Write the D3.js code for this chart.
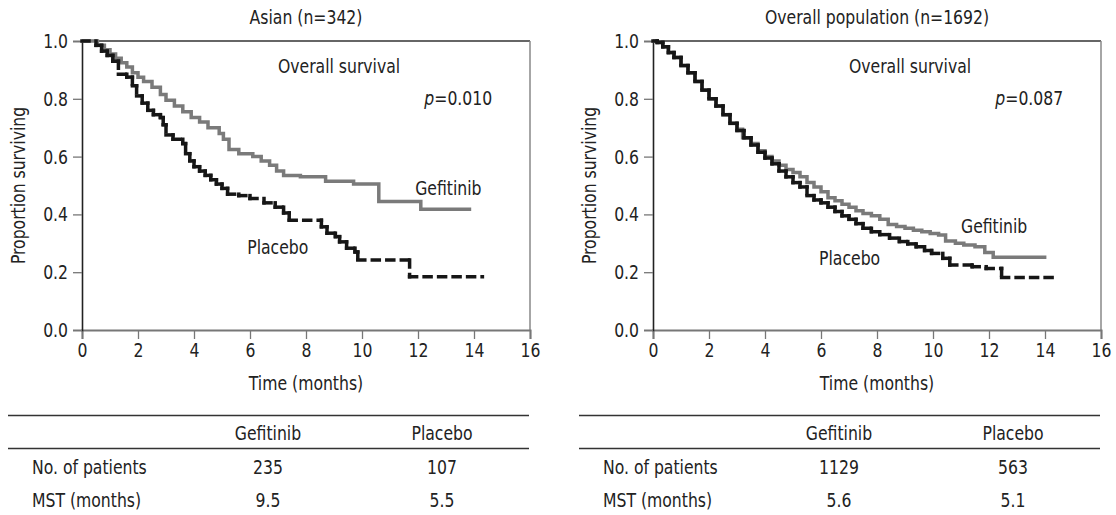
<!DOCTYPE html>
<html>
<head>
<meta charset="utf-8">
<script src="https://cdn.jsdelivr.net/npm/d3@7"></script>
<style>
  body { margin: 0; background: #fff; }
  text { font-family: 'DejaVu Sans Condensed', 'Liberation Sans Narrow', sans-serif; fill: #222; }
</style>
</head>
<body>
<svg id="chart" width="1116" height="515"></svg>
<script>
// tick values
var xTicks = [0, 2, 4, 6, 8, 10, 12, 14, 16];
var yTicks = [0, 0.2, 0.4, 0.6, 0.8, 1.0];

// Asian (n=342) - Kaplan-Meier steps
var asianGefTime = [0, 0.55, 0.8, 1.0, 1.2, 1.4, 1.6, 1.8, 2.0, 2.2, 2.5, 2.8, 3.0, 3.3, 3.6, 3.9, 4.2, 4.5, 4.9, 5.05, 5.25, 5.6, 6.1, 6.4, 6.7, 6.95, 7.2, 7.8, 8.7, 9.7, 10.6, 12.1, 13.9];
var asianGefSurv = [1.0, 0.985, 0.97, 0.955, 0.94, 0.925, 0.91, 0.89, 0.875, 0.86, 0.84, 0.815, 0.795, 0.775, 0.755, 0.735, 0.72, 0.70, 0.68, 0.66, 0.625, 0.61, 0.60, 0.585, 0.57, 0.55, 0.535, 0.53, 0.515, 0.505, 0.445, 0.418, 0.418];
var asianPlaTime = [0, 0.5, 0.7, 0.9, 1.1, 1.3, 1.6, 1.8, 1.95, 2.15, 2.35, 2.55, 2.8, 2.9, 3.0, 3.25, 3.6, 3.7, 3.85, 4.0, 4.2, 4.4, 4.6, 4.8, 5.0, 5.2, 5.6, 6.0, 6.5, 6.9, 7.2, 7.4, 8.55, 8.75, 9.05, 9.2, 9.45, 9.75, 9.85, 11.7, 14.3];
var asianPlaSurv = [1.0, 0.985, 0.965, 0.95, 0.93, 0.885, 0.875, 0.845, 0.81, 0.785, 0.76, 0.745, 0.735, 0.71, 0.675, 0.66, 0.645, 0.61, 0.585, 0.565, 0.55, 0.535, 0.52, 0.505, 0.49, 0.47, 0.465, 0.455, 0.44, 0.425, 0.405, 0.38, 0.357, 0.335, 0.323, 0.305, 0.283, 0.27, 0.242, 0.184, 0.184];

// Overall population (n=1692)
var allGefTime = [0, 0.15, 0.35, 0.55, 0.75, 1.0, 1.25, 1.5, 1.75, 2.0, 2.25, 2.5, 2.75, 3.0, 3.2, 3.5, 3.75, 4.0, 4.25, 4.5, 4.75, 5.0, 5.25, 5.5, 5.75, 6.0, 6.25, 6.5, 6.75, 7.0, 7.25, 7.5, 7.8, 8.1, 8.4, 8.7, 9.0, 9.3, 9.6, 9.9, 10.2, 10.45, 10.8, 11.1, 11.5, 11.85, 12.15, 14.05];
var allGefSurv = [1.0, 0.995, 0.98, 0.96, 0.943, 0.915, 0.89, 0.86, 0.83, 0.80, 0.775, 0.745, 0.715, 0.695, 0.665, 0.645, 0.62, 0.60, 0.585, 0.57, 0.555, 0.545, 0.53, 0.51, 0.495, 0.478, 0.458, 0.447, 0.435, 0.425, 0.413, 0.403, 0.395, 0.383, 0.365, 0.358, 0.352, 0.345, 0.34, 0.334, 0.329, 0.308, 0.30, 0.294, 0.288, 0.268, 0.252, 0.252];
var allPlaTime = [0, 0.15, 0.35, 0.55, 0.75, 1.0, 1.25, 1.5, 1.75, 2.0, 2.25, 2.5, 2.75, 3.0, 3.25, 3.5, 3.75, 4.0, 4.25, 4.5, 4.75, 5.0, 5.25, 5.5, 5.75, 6.0, 6.25, 6.5, 6.75, 7.0, 7.25, 7.5, 7.8, 8.1, 8.45, 8.8, 9.1, 9.4, 9.7, 9.95, 10.35, 10.6, 11.4, 11.9, 12.45, 14.35];
var allPlaSurv = [1.0, 0.995, 0.98, 0.96, 0.943, 0.915, 0.89, 0.86, 0.83, 0.80, 0.775, 0.745, 0.715, 0.69, 0.665, 0.64, 0.615, 0.595, 0.575, 0.55, 0.53, 0.51, 0.495, 0.465, 0.45, 0.44, 0.425, 0.41, 0.395, 0.383, 0.368, 0.352, 0.34, 0.33, 0.318, 0.306, 0.298, 0.288, 0.275, 0.265, 0.248, 0.225, 0.219, 0.213, 0.182, 0.182];

// table under each plot
var tableCols = ["Gefitinib", "Placebo"];
var tableRows = ["No. of patients", "MST (months)"];
var asianTable = [["235", "107"], ["9.5", "5.5"]];
var allTable = [["1129", "563"], ["5.6", "5.1"]];

var svg = d3.select("#chart");
var FS = 20;
var SX = 0.87; // squeeze text sideways, the original face is condensed

function zip(t, s) {
	return t.map(function (d, i) { return { t: d, s: s[i] }; });
}

// text helper: squeezed horizontally around its anchor point
function label(g, x, y, txt, anchor) {
	return g.append("text")
		.attr("transform", "translate(" + x + "," + y + ") scale(" + SX + ",1)")
		.attr("text-anchor", anchor || "start")
		.attr("dominant-baseline", "central")
		.attr("font-size", FS)
		.text(txt);
}

function drawPanel(opt) {
	var x = d3.scaleLinear().domain([0, 16]).range([opt.left, opt.left + 448]);
	var y = d3.scaleLinear().domain([0, 1]).range([330, 41]);
	var g = svg.append("g");

	// frame top / right
	g.append("line").attr("x1", x(0)).attr("x2", x(16)).attr("y1", y(1)).attr("y2", y(1))
		.attr("stroke", "#333").attr("stroke-width", 1.3);
	g.append("line").attr("x1", x(16)).attr("x2", x(16)).attr("y1", y(1)).attr("y2", y(0))
		.attr("stroke", "#888").attr("stroke-width", 1.5);

	var xAxis = g.append("g").attr("transform", "translate(0," + y(0) + ")")
		.call(d3.axisBottom(x).tickValues(xTicks).tickSize(9).tickPadding(4).tickFormat(d3.format("d")));
	var yAxis = g.append("g").attr("transform", "translate(" + x(0) + ",0)")
		.call(d3.axisLeft(y).tickValues(yTicks).tickSize(9).tickPadding(5).tickFormat(d3.format(".1f")));
	xAxis.select(".domain").attr("stroke", "#777").attr("stroke-width", 2);
	yAxis.select(".domain").attr("stroke", "#222").attr("stroke-width", 1.6);
	g.selectAll(".tick line").attr("stroke", "#777").attr("stroke-width", 1.3);
	g.selectAll(".tick text").attr("font-size", FS).attr("font-family", null).attr("fill", "#222");
	xAxis.selectAll(".tick text").attr("transform", "scale(" + SX + ",1)");
	yAxis.selectAll(".tick text").attr("transform", "scale(" + SX + ",1)").attr("x", -14 / SX);

	// gefitinib: solid grey step line
	var gef = zip(opt.gefT, opt.gefS);
	g.append("path").datum(gef)
		.attr("fill", "none").attr("stroke", "#7a7a7a").attr("stroke-width", 3.5)
		.attr("d", d3.line().curve(d3.curveStepAfter).x(function (d) { return x(d.t); }).y(function (d) { return y(d.s); }));

	// placebo: black, each step piece drawn on its own so short steps look solid
	var pla = zip(opt.plaT, opt.plaS);
	var segs = [];
	for (var i = 0; i < pla.length - 1; i++) {
		segs.push([pla[i].t, pla[i].s, pla[i + 1].t, pla[i].s]);
		if (pla[i + 1].s !== pla[i].s) segs.push([pla[i + 1].t, pla[i].s, pla[i + 1].t, pla[i + 1].s]);
	}
	g.selectAll(".pla").data(segs).enter().append("line")
		.attr("class", "pla")
		.attr("x1", function (d) { return x(d[0]); }).attr("y1", function (d) { return y(d[1]); })
		.attr("x2", function (d) { return x(d[2]); }).attr("y2", function (d) { return y(d[3]); })
		.attr("stroke", "#161616").attr("stroke-width", 3.5)
		.attr("stroke-linecap", "square").attr("stroke-dasharray", "7,7.5");

	// texts
	label(g, x(8), 17, opt.title, "middle");
	label(g, x(9.18), y(0.913), "Overall survival", "middle");
	var pt = label(g, x(14.65), y(0.803), "", "end");
	pt.append("tspan").attr("font-style", "italic").text("p");
	pt.append("tspan").text("=" + opt.p);
	label(g, x(opt.gefLab[0]), y(opt.gefLab[1]), "Gefitinib");
	label(g, x(opt.plaLab[0]), y(opt.plaLab[1]), "Placebo");
	label(g, x(8), 383, "Time (months)", "middle");
	g.append("text").attr("transform", "translate(" + (opt.left - 64) + "," + y(0.5) + ") rotate(-90) scale(" + SX + ",1)")
		.attr("text-anchor", "middle").attr("dominant-baseline", "central")
		.attr("font-size", FS).text("Proportion surviving");

	// table
	var tx0 = opt.left - 74, tx1 = opt.left + 447;
	[415.5, 448.5].forEach(function (ly) {
		g.append("line").attr("x1", tx0).attr("x2", tx1).attr("y1", ly).attr("y2", ly)
			.attr("stroke", "#333").attr("stroke-width", 1.5);
	});
	var colX = [opt.left + 186, opt.left + 360];
	tableCols.forEach(function (c, j) {
		label(g, colX[j], 433, c, "middle");
	});
	tableRows.forEach(function (r, i) {
		var ry = 467 + i * 33;
		label(g, tx0 + 24, ry, r);
		opt.table[i].forEach(function (v, j) {
			label(g, colX[j], ry, v, "middle");
		});
	});
}

drawPanel({
	left: 82, title: "Asian (n=342)", p: "0.010",
	gefT: asianGefTime, gefS: asianGefSurv, plaT: asianPlaTime, plaS: asianPlaSurv,
	gefLab: [11.9, 0.491], plaLab: [5.9, 0.288], table: asianTable
});
drawPanel({
	left: 653, title: "Overall population (n=1692)", p: "0.087",
	gefT: allGefTime, gefS: allGefSurv, plaT: allPlaTime, plaS: allPlaSurv,
	gefLab: [11.0, 0.358], plaLab: [5.93, 0.249], table: allTable
});
</script>
</body>
</html>
